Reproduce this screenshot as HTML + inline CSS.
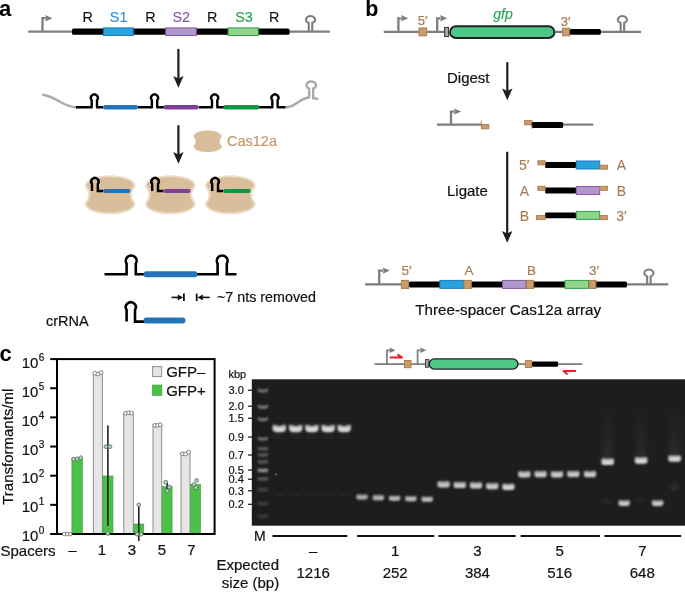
<!DOCTYPE html><html><head><meta charset="utf-8"><style>html,body{margin:0;padding:0;background:#fff;width:685px;height:592px;overflow:hidden}svg{display:block;will-change:transform}text{font-family:"Liberation Sans",sans-serif}</style></head><body>
<svg width="685" height="592" viewBox="0 0 685 592">
<defs><filter id="blur1" x="-50%" y="-50%" width="200%" height="200%"><feGaussianBlur stdDeviation="1.1"/></filter><filter id="blur2" x="-50%" y="-50%" width="200%" height="200%"><feGaussianBlur stdDeviation="1.0"/></filter><filter id="blur3" x="-50%" y="-50%" width="200%" height="200%"><feGaussianBlur stdDeviation="2.5"/></filter><filter id="blob" x="-20%" y="-20%" width="140%" height="140%"><feGaussianBlur stdDeviation="0.6"/></filter><filter id="bandblur" filterUnits="userSpaceOnUse" x="250" y="378" width="436" height="150"><feGaussianBlur stdDeviation="1.3"/></filter><linearGradient id="bandgrad" x1="0" y1="0" x2="0" y2="1"><stop offset="0" stop-color="#fff" stop-opacity="0.62"/><stop offset="0.55" stop-color="#fff" stop-opacity="0.9"/><stop offset="1" stop-color="#fff" stop-opacity="0.92"/></linearGradient><linearGradient id="smeargrad" x1="0" y1="0" x2="0" y2="1"><stop offset="0" stop-color="#fff" stop-opacity="0"/><stop offset="0.6" stop-color="#fff" stop-opacity="0.035"/><stop offset="1" stop-color="#fff" stop-opacity="0.06"/></linearGradient><filter id="smear" filterUnits="userSpaceOnUse" x="250" y="378" width="436" height="150"><feGaussianBlur stdDeviation="2.2"/></filter><filter id="softblur" filterUnits="userSpaceOnUse" x="250" y="378" width="436" height="150"><feGaussianBlur stdDeviation="1.8"/></filter></defs>
<text x="-1" y="15.8" font-size="22" fill="#000" text-anchor="start" font-weight="bold" font-style="normal" >a</text>
<line x1="28.2" y1="31.7" x2="72" y2="31.7" stroke="#7d7d7d" stroke-width="2.2" stroke-linecap="butt"/>
<line x1="289" y1="31.7" x2="329.8" y2="31.7" stroke="#7d7d7d" stroke-width="2.2" stroke-linecap="butt"/>
<path d="M42.5,31.7 V18.2 H45.699999999999996" fill="none" stroke="#7d7d7d" stroke-width="2.3" stroke-linejoin="miter"/>
<path d="M45.199999999999996,15.0 L52.4,18.2 L45.199999999999996,21.4 L46.199999999999996,18.2 Z" fill="#7d7d7d"/>
<path d="M308.75,31.7 V22.98 A4.6,3.6 0 1 1 312.25,22.98 V31.7" fill="none" stroke="#7d7d7d" stroke-width="2.1"/>
<rect x="72" y="28.6" width="217.5" height="6.2" rx="1.5" fill="#000"/>
<rect x="103.5" y="27.9" width="29.80000000000001" height="7.6" fill="#27a2dd" stroke="#1c7bbd" stroke-width="1" rx="0"/>
<rect x="165.7" y="27.9" width="30.600000000000023" height="7.6" fill="#ae98cc" stroke="#8a55a6" stroke-width="1" rx="0"/>
<rect x="228.1" y="27.9" width="30.200000000000017" height="7.6" fill="#8fd58b" stroke="#2f9e4f" stroke-width="1" rx="0"/>
<text x="87.8" y="21.6" font-size="14.4" fill="#111" stroke="#111" stroke-width="0.12" text-anchor="middle" font-weight="normal" font-style="normal" >R</text>
<text x="118.6" y="21.6" font-size="14.4" fill="#2b8fd2" stroke="#2b8fd2" stroke-width="0.12" text-anchor="middle" font-weight="normal" font-style="normal" >S1</text>
<text x="150.5" y="21.6" font-size="14.4" fill="#111" stroke="#111" stroke-width="0.12" text-anchor="middle" font-weight="normal" font-style="normal" >R</text>
<text x="181.2" y="21.6" font-size="14.4" fill="#8e55a8" stroke="#8e55a8" stroke-width="0.12" text-anchor="middle" font-weight="normal" font-style="normal" >S2</text>
<text x="212.3" y="21.6" font-size="14.4" fill="#111" stroke="#111" stroke-width="0.12" text-anchor="middle" font-weight="normal" font-style="normal" >R</text>
<text x="244" y="21.6" font-size="14.4" fill="#2a9c50" stroke="#2a9c50" stroke-width="0.12" text-anchor="middle" font-weight="normal" font-style="normal" >S3</text>
<text x="274.2" y="21.6" font-size="14.4" fill="#111" stroke="#111" stroke-width="0.12" text-anchor="middle" font-weight="normal" font-style="normal" >R</text>
<line x1="178.4" y1="48.9" x2="178.4" y2="79.4" stroke="#1e1e1e" stroke-width="2.2" stroke-linecap="butt"/>
<path d="M178.4,87.7 L173.20000000000002,75.9 L178.4,78.4 L183.6,75.9 Z" fill="#1e1e1e"/>
<path d="M42.3,94.5 C58,97.5 64,107.3 76,107.3" fill="none" stroke="#aaaaaa" stroke-width="2.4"/>
<path d="M285.6,107.3 C296,107.3 300,97.5 309.5,97.5" fill="none" stroke="#aaaaaa" stroke-width="2.4"/>
<path d="M309.2,98 V88.6 A4.8,3.7 0 1 1 313.2,88.6 V98.3 L318.3,99" fill="none" stroke="#aaaaaa" stroke-width="2.4"/>
<path d="M76,107.3 H91.7 V100.16 A3.45,3.45 0 1 1 97.00,100.16 V107.3 H103 M138,107.3 H151.9 V100.16 A3.45,3.45 0 1 1 157.20,100.16 V107.3 H164 M198.6,107.3 H212 V100.16 A3.45,3.45 0 1 1 217.30,100.16 V107.3 H224 M259,107.3 H272.3 V100.16 A3.45,3.45 0 1 1 277.60,100.16 V107.3 H285.6" fill="none" stroke="#000" stroke-width="2.4" stroke-linejoin="round"/>
<line x1="105.2" y1="107.3" x2="135.8" y2="107.3" stroke="#2474ba" stroke-width="4.4" stroke-linecap="round"/>
<line x1="165.8" y1="107.3" x2="196.4" y2="107.3" stroke="#80409a" stroke-width="4.4" stroke-linecap="round"/>
<line x1="225.6" y1="107.3" x2="257.1" y2="107.3" stroke="#139548" stroke-width="4.4" stroke-linecap="round"/>
<line x1="178.4" y1="125.2" x2="178.4" y2="155.39999999999998" stroke="#1e1e1e" stroke-width="2.2" stroke-linecap="butt"/>
<path d="M178.4,163.7 L173.20000000000002,151.89999999999998 L178.4,154.39999999999998 L183.6,151.89999999999998 Z" fill="#1e1e1e"/>
<path d="M193.5,136.8 C194.066,128.53333333333333 221.234,128.53333333333333 221.8,136.8 Q217.20000000000002,141.45 221.8,146.1 C221.234,154.23333333333332 194.066,154.23333333333332 193.5,146.1 Q198.1,141.45 193.5,136.8 Z" fill="#d9be9b" stroke="none" stroke-width="0"/>
<text x="227" y="146.2" font-size="14.5" fill="#c4986b" stroke="#c4986b" stroke-width="0.2" text-anchor="start" font-weight="normal" font-style="normal" >Cas12a</text>
<path d="M85.6,186.0 C86.58,172.9333333333333 133.62,172.9333333333333 134.6,186.0 Q127.0,194.75 134.6,203.5 C133.62,216.5666666666667 86.58,216.5666666666667 85.6,203.5 Q93.19999999999999,194.75 85.6,186.0 Z" fill="#d9be9b" stroke="#ebdcc8" stroke-width="2.0"/>
<path d="M92.0,191.0 V184.00 A3.70,3.70 0 1 1 97.80,184.00 V191.0 H103.0" fill="none" stroke="#000" stroke-width="2.4"/>
<line x1="105.1" y1="191.0" x2="128.5" y2="191.0" stroke="#2474ba" stroke-width="4.2" stroke-linecap="round"/>
<path d="M145.79999999999998,186.0 C146.77999999999997,172.9333333333333 193.82,172.9333333333333 194.79999999999998,186.0 Q187.2,194.75 194.79999999999998,203.5 C193.82,216.5666666666667 146.77999999999997,216.5666666666667 145.79999999999998,203.5 Q153.39999999999998,194.75 145.79999999999998,186.0 Z" fill="#d9be9b" stroke="#ebdcc8" stroke-width="2.0"/>
<path d="M152.2,191.0 V184.00 A3.70,3.70 0 1 1 158.00,184.00 V191.0 H163.2" fill="none" stroke="#000" stroke-width="2.4"/>
<line x1="165.29999999999998" y1="191.0" x2="188.7" y2="191.0" stroke="#80409a" stroke-width="4.2" stroke-linecap="round"/>
<path d="M205.79999999999998,186.0 C206.77999999999997,172.9333333333333 253.82,172.9333333333333 254.79999999999998,186.0 Q247.2,194.75 254.79999999999998,203.5 C253.82,216.5666666666667 206.77999999999997,216.5666666666667 205.79999999999998,203.5 Q213.39999999999998,194.75 205.79999999999998,186.0 Z" fill="#d9be9b" stroke="#ebdcc8" stroke-width="2.0"/>
<path d="M212.2,191.0 V184.00 A3.70,3.70 0 1 1 218.00,184.00 V191.0 H223.2" fill="none" stroke="#000" stroke-width="2.4"/>
<line x1="225.29999999999998" y1="191.0" x2="248.7" y2="191.0" stroke="#139548" stroke-width="4.2" stroke-linecap="round"/>
<path d="M104.5,274.2 H126.6 V263.73 A5.40,5.40 0 1 1 135.80,263.73 V274.2 H145 M196,274.2 H217.6 V263.73 A5.40,5.40 0 1 1 226.80,263.73 V274.2 H236.5" fill="none" stroke="#000" stroke-width="2.6"/>
<line x1="146.5" y1="274.2" x2="194.5" y2="274.2" stroke="#2474ba" stroke-width="6.0" stroke-linecap="round"/>
<path d="M126.6,321.6 V310.01 A5.00,5.00 0 1 1 135.00,310.01 V321.6 H145" fill="none" stroke="#000" stroke-width="2.6"/>
<line x1="146.5" y1="320.6" x2="182.5" y2="320.6" stroke="#2474ba" stroke-width="6.0" stroke-linecap="round"/>
<text x="46" y="325.5" font-size="14.5" fill="#111" stroke="#111" stroke-width="0.2" text-anchor="start" font-weight="normal" font-style="normal" >crRNA</text>
<line x1="171.6" y1="297.4" x2="180" y2="297.4" stroke="#111" stroke-width="1.6" stroke-linecap="butt"/>
<path d="M183.2,297.4 L177.8,294.6 L177.8,300.2 Z" fill="#111"/>
<line x1="183.9" y1="293.6" x2="183.9" y2="301.0" stroke="#111" stroke-width="1.8" stroke-linecap="butt"/>
<line x1="196.7" y1="293.6" x2="196.7" y2="301.0" stroke="#111" stroke-width="1.8" stroke-linecap="butt"/>
<path d="M197.4,297.4 L202.8,294.6 L202.8,300.2 Z" fill="#111"/>
<line x1="200" y1="297.4" x2="209.7" y2="297.4" stroke="#111" stroke-width="1.6" stroke-linecap="butt"/>
<text x="217" y="302" font-size="14.3" fill="#111" stroke="#111" stroke-width="0.2" text-anchor="start" font-weight="normal" font-style="normal" >~7 nts removed</text>
<text x="365.3" y="15.8" font-size="21.5" fill="#000" text-anchor="start" font-weight="bold" font-style="normal" >b</text>
<line x1="383.7" y1="31.8" x2="449" y2="31.8" stroke="#7d7d7d" stroke-width="2.2" stroke-linecap="butt"/>
<line x1="555" y1="31.8" x2="641" y2="31.8" stroke="#7d7d7d" stroke-width="2.2" stroke-linecap="butt"/>
<path d="M398.4,31.8 V18.3 H401.5" fill="none" stroke="#7d7d7d" stroke-width="2.3" stroke-linejoin="miter"/>
<path d="M401.0,15.100000000000001 L408.2,18.3 L401.0,21.5 L402.0,18.3 Z" fill="#7d7d7d"/>
<path d="M437.2,31.8 V18.3 H440.5" fill="none" stroke="#7d7d7d" stroke-width="2.3" stroke-linejoin="miter"/>
<path d="M440.0,15.100000000000001 L447.2,18.3 L440.0,21.5 L441.0,18.3 Z" fill="#7d7d7d"/>
<rect x="419" y="28.0" width="7.6" height="7.8" fill="#c99c6c" stroke="#a87a4c" stroke-width="1" rx="0"/>
<text x="422.5" y="25.4" font-size="13" fill="#a87a4e" stroke="#a87a4e" stroke-width="0.2" text-anchor="middle" font-weight="normal" font-style="normal" >5′</text>
<rect x="444.6" y="27.4" width="4.0" height="9.2" fill="#a8a8a8" stroke="#333" stroke-width="1" rx="0"/>
<rect x="450.0" y="26.3" width="104.4" height="11.7" rx="5.85" fill="#4cc786" stroke="#222" stroke-width="1.9"/>
<text x="503" y="19.3" font-size="14" fill="#2aa75a" stroke="#2aa75a" stroke-width="0.2" text-anchor="middle" font-weight="normal" font-style="italic" >gfp</text>
<rect x="562.6" y="28.2" width="7.2" height="7.6" fill="#c99c6c" stroke="#a87a4c" stroke-width="1" rx="0"/>
<text x="565.5" y="25.5" font-size="13" fill="#a87a4e" stroke="#a87a4e" stroke-width="0.2" text-anchor="middle" font-weight="normal" font-style="normal" >3′</text>
<rect x="569.8" y="29.0" width="31" height="5.8" rx="1.5" fill="#000"/>
<path d="M620.65,31.8 V22.98 A4.6,3.6 0 1 1 624.15,22.98 V31.8" fill="none" stroke="#7d7d7d" stroke-width="2.1"/>
<text x="447" y="82.8" font-size="15" fill="#111" stroke="#111" stroke-width="0.2" text-anchor="start" font-weight="normal" font-style="normal" >Digest</text>
<line x1="507.3" y1="62.2" x2="507.3" y2="91.9" stroke="#1e1e1e" stroke-width="2.2" stroke-linecap="butt"/>
<path d="M507.3,100.2 L502.1,88.4 L507.3,90.9 L512.5,88.4 Z" fill="#1e1e1e"/>
<line x1="437" y1="124.6" x2="481" y2="124.6" stroke="#7d7d7d" stroke-width="2.2" stroke-linecap="butt"/>
<path d="M451,124.6 V111.6 H454.5" fill="none" stroke="#7d7d7d" stroke-width="2.3" stroke-linejoin="miter"/>
<path d="M454.0,108.39999999999999 L461.2,111.6 L454.0,114.8 L455.0,111.6 Z" fill="#7d7d7d"/>
<rect x="481.4" y="124.6" width="7.4" height="4.2" fill="#c99c6c" stroke="#a87a4c" stroke-width="0.9" rx="0"/>
<line x1="481.3" y1="120.3" x2="481.3" y2="124.6" stroke="#a87a4c" stroke-width="0.8" stroke-linecap="butt"/>
<rect x="524.6" y="120.6" width="7.4" height="4.2" fill="#c99c6c" stroke="#a87a4c" stroke-width="0.9" rx="0"/>
<rect x="531.7" y="122.0" width="31.5" height="5.9" rx="1.5" fill="#000"/>
<line x1="563" y1="124.6" x2="593.3" y2="124.6" stroke="#7d7d7d" stroke-width="2.2" stroke-linecap="butt"/>
<line x1="532" y1="124.8" x2="532" y2="128.8" stroke="#a87a4c" stroke-width="0.8" stroke-linecap="butt"/>
<text x="447" y="196" font-size="15" fill="#111" stroke="#111" stroke-width="0.2" text-anchor="start" font-weight="normal" font-style="normal" >Ligate</text>
<line x1="507.2" y1="151.8" x2="507.2" y2="234.5" stroke="#1e1e1e" stroke-width="2.2" stroke-linecap="butt"/>
<path d="M507.2,242.8 L502.0,231.0 L507.2,233.5 L512.4,231.0 Z" fill="#1e1e1e"/>
<rect x="545.1" y="162.05" width="31" height="5.9" rx="1.2" fill="#000"/>
<rect x="576.3" y="161.0" width="23.4" height="8.0" fill="#27a2dd" stroke="#1c7bbd" stroke-width="1" rx="0"/>
<rect x="537.9" y="160.8" width="7.2000000000000455" height="4.0" fill="#c99c6c" stroke="#a87a4c" stroke-width="0.9" rx="0"/>
<rect x="599.9" y="165.2" width="7.5" height="4.0" fill="#c99c6c" stroke="#a87a4c" stroke-width="0.9" rx="0"/>
<text x="524.3" y="170.2" font-size="14" fill="#a87a4e" stroke="#a87a4e" stroke-width="0.1" text-anchor="middle" font-weight="normal" font-style="normal" >5′</text>
<text x="621.4" y="170.2" font-size="14" fill="#a87a4e" stroke="#a87a4e" stroke-width="0.1" text-anchor="middle" font-weight="normal" font-style="normal" >A</text>
<rect x="545.1" y="187.55" width="31" height="5.9" rx="1.2" fill="#000"/>
<rect x="576.3" y="186.5" width="23.4" height="8.0" fill="#ae98cc" stroke="#8a55a6" stroke-width="1" rx="0"/>
<rect x="537.9" y="186.3" width="7.2000000000000455" height="4.0" fill="#c99c6c" stroke="#a87a4c" stroke-width="0.9" rx="0"/>
<rect x="599.9" y="186.3" width="7.5" height="4.0" fill="#c99c6c" stroke="#a87a4c" stroke-width="0.9" rx="0"/>
<text x="524.3" y="195.7" font-size="14" fill="#a87a4e" stroke="#a87a4e" stroke-width="0.1" text-anchor="middle" font-weight="normal" font-style="normal" >A</text>
<text x="621.4" y="195.7" font-size="14" fill="#a87a4e" stroke="#a87a4e" stroke-width="0.1" text-anchor="middle" font-weight="normal" font-style="normal" >B</text>
<rect x="545.1" y="212.45000000000002" width="31" height="5.9" rx="1.2" fill="#000"/>
<rect x="576.3" y="211.4" width="23.4" height="8.0" fill="#8fd58b" stroke="#2f9e4f" stroke-width="1" rx="0"/>
<rect x="536.4" y="215.6" width="8.700000000000045" height="4.0" fill="#c99c6c" stroke="#a87a4c" stroke-width="0.9" rx="0"/>
<rect x="599.9" y="215.6" width="7.5" height="4.0" fill="#c99c6c" stroke="#a87a4c" stroke-width="0.9" rx="0"/>
<text x="524.3" y="220.6" font-size="14" fill="#a87a4e" stroke="#a87a4e" stroke-width="0.1" text-anchor="middle" font-weight="normal" font-style="normal" >B</text>
<text x="621.4" y="220.6" font-size="14" fill="#a87a4e" stroke="#a87a4e" stroke-width="0.1" text-anchor="middle" font-weight="normal" font-style="normal" >3′</text>
<line x1="365.1" y1="284.4" x2="401" y2="284.4" stroke="#7d7d7d" stroke-width="2.2" stroke-linecap="butt"/>
<line x1="627" y1="284.4" x2="668.2" y2="284.4" stroke="#7d7d7d" stroke-width="2.2" stroke-linecap="butt"/>
<path d="M379.2,284.4 V270.6 H383.2" fill="none" stroke="#7d7d7d" stroke-width="2.3" stroke-linejoin="miter"/>
<path d="M382.7,267.40000000000003 L389.9,270.6 L382.7,273.8 L383.7,270.6 Z" fill="#7d7d7d"/>
<rect x="409" y="281.4" width="218" height="6.0" rx="1.5" fill="#000"/>
<rect x="439.9" y="280.4" width="23.600000000000023" height="8.0" fill="#27a2dd" stroke="#1c7bbd" stroke-width="1" rx="0"/>
<rect x="502.5" y="280.4" width="23.5" height="8.0" fill="#ae98cc" stroke="#8a55a6" stroke-width="1" rx="0"/>
<rect x="565" y="280.4" width="23.600000000000023" height="8.0" fill="#8fd58b" stroke="#2f9e4f" stroke-width="1" rx="0"/>
<rect x="401.4" y="280.4" width="7.2" height="8.0" fill="#c99c6c" stroke="#a87a4c" stroke-width="1" rx="0"/>
<text x="406.5" y="274.9" font-size="13.5" fill="#a87a4e" stroke="#a87a4e" stroke-width="0.2" text-anchor="middle" font-weight="normal" font-style="normal" >5′</text>
<rect x="463.9" y="280.4" width="7.399999999999989" height="8.0" fill="#c99c6c" stroke="#a87a4c" stroke-width="1" rx="0"/>
<text x="469.1" y="274.9" font-size="13.5" fill="#a87a4e" stroke="#a87a4e" stroke-width="0.2" text-anchor="middle" font-weight="normal" font-style="normal" >A</text>
<rect x="526.4" y="280.4" width="7.2" height="8.0" fill="#c99c6c" stroke="#a87a4c" stroke-width="1" rx="0"/>
<text x="531.5" y="274.9" font-size="13.5" fill="#a87a4e" stroke="#a87a4e" stroke-width="0.2" text-anchor="middle" font-weight="normal" font-style="normal" >B</text>
<rect x="589.0" y="280.4" width="6.899999999999932" height="8.0" fill="#c99c6c" stroke="#a87a4c" stroke-width="1" rx="0"/>
<text x="593.95" y="274.9" font-size="13.5" fill="#a87a4e" stroke="#a87a4e" stroke-width="0.2" text-anchor="middle" font-weight="normal" font-style="normal" >3′</text>
<path d="M647.15,284.4 V276.38 A4.6,3.6 0 1 1 650.65,276.38 V284.4" fill="none" stroke="#7d7d7d" stroke-width="2.1"/>
<text x="508.2" y="315.3" font-size="15.2" fill="#111" stroke="#111" stroke-width="0.2" text-anchor="middle" font-weight="normal" font-style="normal" >Three-spacer Cas12a array</text>
<text x="-0.6" y="360.6" font-size="22" fill="#000" text-anchor="start" font-weight="bold" font-style="normal" >c</text>
<rect x="71.9" y="458.1499512527899" width="10.5" height="75.85004874721011" fill="#4cc14a" stroke="#3aa040" stroke-width="0.6" rx="0"/>
<rect x="93.4" y="372.7573895682183" width="9.0" height="161.2426104317817" fill="#e6e6e6" stroke="#8f8f8f" stroke-width="1" rx="0"/>
<rect x="102.9" y="475.95575989356377" width="10.099999999999994" height="58.044240106436234" fill="#4cc14a" stroke="#3aa040" stroke-width="0.6" rx="0"/>
<rect x="123.8" y="412.69612273485046" width="9.500000000000014" height="121.30387726514954" fill="#e6e6e6" stroke="#8f8f8f" stroke-width="1" rx="0"/>
<rect x="133.8" y="524.0183788540327" width="10.0" height="9.981621145967324" fill="#4cc14a" stroke="#3aa040" stroke-width="0.6" rx="0"/>
<rect x="153.0" y="424.74031901276925" width="8.699999999999989" height="109.25968098723075" fill="#e6e6e6" stroke="#8f8f8f" stroke-width="1" rx="0"/>
<rect x="162.2" y="486.6822831849012" width="9.900000000000006" height="47.31771681509878" fill="#4cc14a" stroke="#3aa040" stroke-width="0.6" rx="0"/>
<rect x="181.0" y="452.80763530943614" width="9.0" height="81.19236469056386" fill="#e6e6e6" stroke="#8f8f8f" stroke-width="1" rx="0"/>
<rect x="190.5" y="484.22432936674517" width="10.099999999999994" height="49.77567063325483" fill="#4cc14a" stroke="#3aa040" stroke-width="0.6" rx="0"/>
<rect x="57" y="359.1" width="157.6" height="174.9" fill="none" stroke="#000" stroke-width="2"/>
<line x1="107.9" y1="425.6" x2="107.9" y2="526" stroke="#222" stroke-width="1.6" stroke-linecap="butt"/>
<line x1="138.8" y1="504.9" x2="138.8" y2="541" stroke="#222" stroke-width="1.6" stroke-linecap="butt"/>
<line x1="167.2" y1="483" x2="167.2" y2="490" stroke="#222" stroke-width="1.6" stroke-linecap="butt"/>
<circle cx="64.3" cy="534" r="1.9" fill="#ffffff" stroke="#666" stroke-width="0.8"/>
<circle cx="67.3" cy="534" r="1.9" fill="#ffffff" stroke="#666" stroke-width="0.8"/>
<circle cx="70.2" cy="534" r="1.9" fill="#ffffff" stroke="#666" stroke-width="0.8"/>
<circle cx="94.8" cy="373.3" r="1.9" fill="#ffffff" stroke="#666" stroke-width="0.8"/>
<circle cx="97.9" cy="374.0" r="1.9" fill="#ffffff" stroke="#666" stroke-width="0.8"/>
<circle cx="101.1" cy="372.5" r="1.9" fill="#ffffff" stroke="#666" stroke-width="0.8"/>
<circle cx="125.6" cy="413.3" r="1.9" fill="#ffffff" stroke="#666" stroke-width="0.8"/>
<circle cx="128.6" cy="412.8" r="1.9" fill="#ffffff" stroke="#666" stroke-width="0.8"/>
<circle cx="131.6" cy="413.0" r="1.9" fill="#ffffff" stroke="#666" stroke-width="0.8"/>
<circle cx="154.8" cy="425.3" r="1.9" fill="#ffffff" stroke="#666" stroke-width="0.8"/>
<circle cx="157.6" cy="425.4" r="1.9" fill="#ffffff" stroke="#666" stroke-width="0.8"/>
<circle cx="160.2" cy="424.8" r="1.9" fill="#ffffff" stroke="#666" stroke-width="0.8"/>
<circle cx="182.5" cy="453.8" r="1.9" fill="#ffffff" stroke="#666" stroke-width="0.8"/>
<circle cx="185.5" cy="454.0" r="1.9" fill="#ffffff" stroke="#666" stroke-width="0.8"/>
<circle cx="188.6" cy="452.2" r="1.9" fill="#ffffff" stroke="#666" stroke-width="0.8"/>
<circle cx="73.6" cy="459.2" r="1.9" fill="#a6dcb4" stroke="#666" stroke-width="0.8"/>
<circle cx="77.2" cy="459.0" r="1.9" fill="#a6dcb4" stroke="#666" stroke-width="0.8"/>
<circle cx="80.7" cy="457.7" r="1.9" fill="#a6dcb4" stroke="#666" stroke-width="0.8"/>
<circle cx="105.9" cy="446.7" r="1.9" fill="#a6dcb4" stroke="#666" stroke-width="0.8"/>
<circle cx="110.0" cy="446.7" r="1.9" fill="#a6dcb4" stroke="#666" stroke-width="0.8"/>
<circle cx="107.8" cy="533.5" r="1.9" fill="#a6dcb4" stroke="#666" stroke-width="0.8"/>
<circle cx="138.8" cy="504.9" r="1.9" fill="#a6dcb4" stroke="#666" stroke-width="0.8"/>
<circle cx="137.0" cy="534.2" r="1.9" fill="#a6dcb4" stroke="#666" stroke-width="0.8"/>
<circle cx="141.2" cy="534.2" r="1.9" fill="#a6dcb4" stroke="#666" stroke-width="0.8"/>
<circle cx="165.7" cy="482.1" r="1.9" fill="#a6dcb4" stroke="#666" stroke-width="0.8"/>
<circle cx="169.4" cy="487.0" r="1.9" fill="#a6dcb4" stroke="#666" stroke-width="0.8"/>
<circle cx="167.2" cy="491.0" r="1.9" fill="#a6dcb4" stroke="#666" stroke-width="0.8"/>
<circle cx="196.6" cy="480.4" r="1.9" fill="#a6dcb4" stroke="#666" stroke-width="0.8"/>
<circle cx="193.9" cy="484.6" r="1.9" fill="#a6dcb4" stroke="#666" stroke-width="0.8"/>
<circle cx="195.9" cy="487.7" r="1.9" fill="#a6dcb4" stroke="#666" stroke-width="0.8"/>
<line x1="50.2" y1="534.0" x2="57" y2="534.0" stroke="#000" stroke-width="2" stroke-linecap="butt"/>
<text x="38.4" y="540.6" font-size="15" fill="#111" stroke="#111" stroke-width="0.2" text-anchor="end" font-weight="normal" font-style="normal" >10</text>
<text x="38.8" y="533.7" font-size="10" fill="#111" stroke="#111" stroke-width="0.2" text-anchor="start" font-weight="normal" font-style="normal" >0</text>
<line x1="50.2" y1="504.85" x2="57" y2="504.85" stroke="#000" stroke-width="2" stroke-linecap="butt"/>
<text x="38.4" y="512.2" font-size="15" fill="#111" stroke="#111" stroke-width="0.2" text-anchor="end" font-weight="normal" font-style="normal" >10</text>
<text x="38.8" y="505.30000000000007" font-size="10" fill="#111" stroke="#111" stroke-width="0.2" text-anchor="start" font-weight="normal" font-style="normal" >1</text>
<line x1="50.2" y1="475.7" x2="57" y2="475.7" stroke="#000" stroke-width="2" stroke-linecap="butt"/>
<text x="38.4" y="483.4" font-size="15" fill="#111" stroke="#111" stroke-width="0.2" text-anchor="end" font-weight="normal" font-style="normal" >10</text>
<text x="38.8" y="476.5" font-size="10" fill="#111" stroke="#111" stroke-width="0.2" text-anchor="start" font-weight="normal" font-style="normal" >2</text>
<line x1="50.2" y1="446.55" x2="57" y2="446.55" stroke="#000" stroke-width="2" stroke-linecap="butt"/>
<text x="38.4" y="454.6" font-size="15" fill="#111" stroke="#111" stroke-width="0.2" text-anchor="end" font-weight="normal" font-style="normal" >10</text>
<text x="38.8" y="447.70000000000005" font-size="10" fill="#111" stroke="#111" stroke-width="0.2" text-anchor="start" font-weight="normal" font-style="normal" >3</text>
<line x1="50.2" y1="417.4" x2="57" y2="417.4" stroke="#000" stroke-width="2" stroke-linecap="butt"/>
<text x="38.4" y="426.0" font-size="15" fill="#111" stroke="#111" stroke-width="0.2" text-anchor="end" font-weight="normal" font-style="normal" >10</text>
<text x="38.8" y="419.1" font-size="10" fill="#111" stroke="#111" stroke-width="0.2" text-anchor="start" font-weight="normal" font-style="normal" >4</text>
<line x1="50.2" y1="388.25" x2="57" y2="388.25" stroke="#000" stroke-width="2" stroke-linecap="butt"/>
<text x="38.4" y="397.0" font-size="15" fill="#111" stroke="#111" stroke-width="0.2" text-anchor="end" font-weight="normal" font-style="normal" >10</text>
<text x="38.8" y="390.1" font-size="10" fill="#111" stroke="#111" stroke-width="0.2" text-anchor="start" font-weight="normal" font-style="normal" >5</text>
<line x1="50.2" y1="359.1" x2="57" y2="359.1" stroke="#000" stroke-width="2" stroke-linecap="butt"/>
<text x="38.4" y="368.3" font-size="15" fill="#111" stroke="#111" stroke-width="0.2" text-anchor="end" font-weight="normal" font-style="normal" >10</text>
<text x="38.8" y="361.40000000000003" font-size="10" fill="#111" stroke="#111" stroke-width="0.2" text-anchor="start" font-weight="normal" font-style="normal" >6</text>
<text x="13.3" y="504.8" font-size="15" fill="#111" stroke="#111" stroke-width="0.2" text-anchor="start" font-weight="normal" font-style="normal" transform="rotate(-90 13.3 504.8)">Transformants/ml</text>
<rect x="152.6" y="366.6" width="9.0" height="10.0" fill="#e6e6e6" stroke="#8f8f8f" stroke-width="1" rx="0"/>
<rect x="152.3" y="385.0" width="9.6" height="10.5" fill="#4cc14a" stroke="#3aa040" stroke-width="0.6" rx="0"/>
<text x="166.2" y="377.2" font-size="15" fill="#111" stroke="#111" stroke-width="0.2" text-anchor="start" font-weight="normal" font-style="normal" >GFP–</text>
<text x="166.2" y="395.8" font-size="15" fill="#111" stroke="#111" stroke-width="0.2" text-anchor="start" font-weight="normal" font-style="normal" >GFP+</text>
<text x="0.5" y="555.5" font-size="15" fill="#111" stroke="#111" stroke-width="0.2" text-anchor="start" font-weight="normal" font-style="normal" >Spacers</text>
<text x="72.5" y="555.4" font-size="15" fill="#111" stroke="#111" stroke-width="0.2" text-anchor="middle" font-weight="normal" font-style="normal" >–</text>
<text x="102" y="555.4" font-size="15" fill="#111" stroke="#111" stroke-width="0.2" text-anchor="middle" font-weight="normal" font-style="normal" >1</text>
<text x="132" y="555.4" font-size="15" fill="#111" stroke="#111" stroke-width="0.2" text-anchor="middle" font-weight="normal" font-style="normal" >3</text>
<text x="162" y="555.4" font-size="15" fill="#111" stroke="#111" stroke-width="0.2" text-anchor="middle" font-weight="normal" font-style="normal" >5</text>
<text x="191.5" y="555.4" font-size="15" fill="#111" stroke="#111" stroke-width="0.2" text-anchor="middle" font-weight="normal" font-style="normal" >7</text>
<line x1="374.5" y1="364.2" x2="425" y2="364.2" stroke="#7d7d7d" stroke-width="1.8" stroke-linecap="butt"/>
<line x1="518" y1="364.2" x2="582.3" y2="364.2" stroke="#7d7d7d" stroke-width="1.8" stroke-linecap="butt"/>
<path d="M386.9,364.2 V350.3 H389.9" fill="none" stroke="#7d7d7d" stroke-width="1.7"/>
<path d="M389.5,347.6 L395.7,350.3 L389.5,353.0 L390.2,350.3 Z" fill="#7d7d7d"/>
<path d="M417.6,364.2 V350.3 H420.6" fill="none" stroke="#7d7d7d" stroke-width="1.7"/>
<path d="M420.20000000000005,347.6 L426.40000000000003,350.3 L420.20000000000005,353.0 L420.90000000000003,350.3 Z" fill="#7d7d7d"/>
<rect x="404.4" y="360.5" width="6.6" height="7.2" fill="#c99c6c" stroke="#a87a4c" stroke-width="0.9" rx="0"/>
<rect x="425.5" y="359.6" width="3.3" height="7.6" fill="#a8a8a8" stroke="#333" stroke-width="0.9" rx="0"/>
<rect x="429.2" y="358.9" width="88.8" height="10.2" rx="5.1" fill="#4cc786" stroke="#222" stroke-width="1.4"/>
<rect x="525.3" y="360.6" width="6.6" height="7.0" fill="#c99c6c" stroke="#a87a4c" stroke-width="0.9" rx="0"/>
<rect x="532.1" y="361.4" width="26" height="5.3" rx="1.3" fill="#000"/>
<path d="M390.6,357.6 H402 L398.2,354.9" fill="none" stroke="#e8202a" stroke-width="2.0" stroke-linecap="round" stroke-linejoin="round"/>
<path d="M575.3,370.9 H563.6 L567,373.9" fill="none" stroke="#e8202a" stroke-width="2.0" stroke-linecap="round" stroke-linejoin="round"/>
<rect x="251.8" y="379.3" width="433.2" height="146.4" fill="#1d1d1d" rx="0"/>
<text x="228.4" y="377.9" font-size="11" fill="#111" stroke="#111" stroke-width="0.2" text-anchor="start" font-weight="normal" font-style="normal" >kbp</text>
<text x="243.8" y="394.3" font-size="11" fill="#111" stroke="#111" stroke-width="0.2" text-anchor="end" font-weight="normal" font-style="normal" >3.0</text>
<line x1="248" y1="390.3" x2="252" y2="390.3" stroke="#111" stroke-width="1.2" stroke-linecap="butt"/>
<text x="243.8" y="410.2" font-size="11" fill="#111" stroke="#111" stroke-width="0.2" text-anchor="end" font-weight="normal" font-style="normal" >2.0</text>
<line x1="248" y1="406.2" x2="252" y2="406.2" stroke="#111" stroke-width="1.2" stroke-linecap="butt"/>
<text x="243.8" y="422.2" font-size="11" fill="#111" stroke="#111" stroke-width="0.2" text-anchor="end" font-weight="normal" font-style="normal" >1.5</text>
<line x1="248" y1="418.2" x2="252" y2="418.2" stroke="#111" stroke-width="1.2" stroke-linecap="butt"/>
<text x="243.8" y="441.0" font-size="11" fill="#111" stroke="#111" stroke-width="0.2" text-anchor="end" font-weight="normal" font-style="normal" >0.9</text>
<line x1="248" y1="437.0" x2="252" y2="437.0" stroke="#111" stroke-width="1.2" stroke-linecap="butt"/>
<text x="243.8" y="459.0" font-size="11" fill="#111" stroke="#111" stroke-width="0.2" text-anchor="end" font-weight="normal" font-style="normal" >0.7</text>
<line x1="248" y1="455.0" x2="252" y2="455.0" stroke="#111" stroke-width="1.2" stroke-linecap="butt"/>
<text x="243.8" y="474.0" font-size="11" fill="#111" stroke="#111" stroke-width="0.2" text-anchor="end" font-weight="normal" font-style="normal" >0.5</text>
<line x1="248" y1="470.0" x2="252" y2="470.0" stroke="#111" stroke-width="1.2" stroke-linecap="butt"/>
<text x="243.8" y="483.2" font-size="11" fill="#111" stroke="#111" stroke-width="0.2" text-anchor="end" font-weight="normal" font-style="normal" >0.4</text>
<line x1="248" y1="479.2" x2="252" y2="479.2" stroke="#111" stroke-width="1.2" stroke-linecap="butt"/>
<text x="243.8" y="494.8" font-size="11" fill="#111" stroke="#111" stroke-width="0.2" text-anchor="end" font-weight="normal" font-style="normal" >0.3</text>
<line x1="248" y1="490.8" x2="252" y2="490.8" stroke="#111" stroke-width="1.2" stroke-linecap="butt"/>
<text x="243.8" y="508.3" font-size="11" fill="#111" stroke="#111" stroke-width="0.2" text-anchor="end" font-weight="normal" font-style="normal" >0.2</text>
<line x1="248" y1="504.3" x2="252" y2="504.3" stroke="#111" stroke-width="1.2" stroke-linecap="butt"/>
<g filter="url(#blur2)">
<path d="M257.8,388.3 Q262.9,390.7 268.0,388.3 L268.0,391.4 Q262.9,393.79999999999995 257.8,391.4 Z" fill="rgb(115,115,115)"/>
<path d="M257.8,404.6 Q262.9,407.0 268.0,404.6 L268.0,407.7 Q262.9,410.09999999999997 257.8,407.7 Z" fill="rgb(123,123,123)"/>
<path d="M257.8,417.0 Q262.9,419.4 268.0,417.0 L268.0,420.09999999999997 Q262.9,422.49999999999994 257.8,420.09999999999997 Z" fill="rgb(123,123,123)"/>
<path d="M257.8,436.7 Q262.9,438.62 268.0,436.7 L268.0,439.79999999999995 Q262.9,441.71999999999997 257.8,439.79999999999995 Z" fill="rgb(115,115,115)"/>
<path d="M257.8,446.8 Q262.9,447.76 268.0,446.8 L268.0,449.9 Q262.9,450.85999999999996 257.8,449.9 Z" fill="rgb(91,91,91)"/>
<path d="M257.8,453.1 Q262.9,454.06 268.0,453.1 L268.0,456.2 Q262.9,457.15999999999997 257.8,456.2 Z" fill="rgb(91,91,91)"/>
<path d="M257.8,460.1 Q262.9,461.06 268.0,460.1 L268.0,463.2 Q262.9,464.15999999999997 257.8,463.2 Z" fill="rgb(91,91,91)"/>
<path d="M257.8,468.6 Q262.9,469.56 268.0,468.6 L268.0,471.7 Q262.9,472.65999999999997 257.8,471.7 Z" fill="rgb(151,151,151)"/>
<path d="M257.8,477.1 Q262.9,478.06 268.0,477.1 L268.0,480.2 Q262.9,481.15999999999997 257.8,480.2 Z" fill="rgb(91,91,91)"/>
<path d="M257.8,487.8 Q262.9,489.0 268.0,487.8 L268.0,490.9 Q262.9,492.09999999999997 257.8,490.9 Z" fill="rgb(71,71,71)"/>
<path d="M257.8,501.6 Q262.9,502.8 268.0,501.6 L268.0,504.7 Q262.9,505.9 257.8,504.7 Z" fill="rgb(67,67,67)"/>
<path d="M257.8,514.3 Q262.9,515.5 268.0,514.3 L268.0,517.4 Q262.9,518.6 257.8,517.4 Z" fill="rgb(59,59,59)"/>
</g>
<path d="M272.5,425.79999999999995 Q272.5,424.59999999999997 274.5,424.59999999999997 Q279.3,427.48799999999994 284.1,424.59999999999997 Q286.1,424.59999999999997 286.1,425.79999999999995 L286.1,427.488 Q286.1,432.2 281.38800000000003,432.2 L277.212,432.2 Q272.5,432.2 272.5,427.488 Z" fill="url(#bandgrad)" opacity="0.92" filter="url(#bandblur)"/>
<rect x="273.8" y="435.2" width="11" height="1.6" rx="0.8" fill="rgb(45,45,45)" filter="url(#softblur)"/>
<rect x="274.3" y="493.55" width="10" height="2.5" rx="1.25" fill="rgb(38,38,38)" filter="url(#softblur)"/>
<path d="M288.9,425.79999999999995 Q288.9,424.59999999999997 290.9,424.59999999999997 Q295.7,427.48799999999994 300.5,424.59999999999997 Q302.5,424.59999999999997 302.5,425.79999999999995 L302.5,427.488 Q302.5,432.2 297.788,432.2 L293.61199999999997,432.2 Q288.9,432.2 288.9,427.488 Z" fill="url(#bandgrad)" opacity="0.92" filter="url(#bandblur)"/>
<rect x="290.2" y="435.2" width="11" height="1.6" rx="0.8" fill="rgb(45,45,45)" filter="url(#softblur)"/>
<rect x="290.7" y="493.55" width="10" height="2.5" rx="1.25" fill="rgb(38,38,38)" filter="url(#softblur)"/>
<path d="M305.09999999999997,425.79999999999995 Q305.09999999999997,424.59999999999997 307.09999999999997,424.59999999999997 Q311.9,427.48799999999994 316.7,424.59999999999997 Q318.7,424.59999999999997 318.7,425.79999999999995 L318.7,427.488 Q318.7,432.2 313.988,432.2 L309.81199999999995,432.2 Q305.09999999999997,432.2 305.09999999999997,427.488 Z" fill="url(#bandgrad)" opacity="0.92" filter="url(#bandblur)"/>
<rect x="306.4" y="435.2" width="11" height="1.6" rx="0.8" fill="rgb(45,45,45)" filter="url(#softblur)"/>
<rect x="306.9" y="493.55" width="10" height="2.5" rx="1.25" fill="rgb(38,38,38)" filter="url(#softblur)"/>
<path d="M321.3,425.79999999999995 Q321.3,424.59999999999997 323.3,424.59999999999997 Q328.1,427.48799999999994 332.90000000000003,424.59999999999997 Q334.90000000000003,424.59999999999997 334.90000000000003,425.79999999999995 L334.90000000000003,427.488 Q334.90000000000003,432.2 330.18800000000005,432.2 L326.012,432.2 Q321.3,432.2 321.3,427.488 Z" fill="url(#bandgrad)" opacity="0.92" filter="url(#bandblur)"/>
<rect x="322.6" y="435.2" width="11" height="1.6" rx="0.8" fill="rgb(45,45,45)" filter="url(#softblur)"/>
<rect x="323.1" y="493.55" width="10" height="2.5" rx="1.25" fill="rgb(38,38,38)" filter="url(#softblur)"/>
<path d="M337.4,425.79999999999995 Q337.4,424.59999999999997 339.4,424.59999999999997 Q344.2,427.48799999999994 349.0,424.59999999999997 Q351.0,424.59999999999997 351.0,425.79999999999995 L351.0,427.488 Q351.0,432.2 346.288,432.2 L342.11199999999997,432.2 Q337.4,432.2 337.4,427.488 Z" fill="url(#bandgrad)" opacity="0.92" filter="url(#bandblur)"/>
<rect x="338.7" y="435.2" width="11" height="1.6" rx="0.8" fill="rgb(45,45,45)" filter="url(#softblur)"/>
<rect x="339.2" y="493.55" width="10" height="2.5" rx="1.25" fill="rgb(38,38,38)" filter="url(#softblur)"/>
<path d="M356.3,495.4 Q356.3,494.2 358.3,494.2 Q362.0,494.848 365.7,494.2 Q367.7,494.2 367.7,495.4 L367.7,497.332 Q367.7,499.59999999999997 365.432,499.59999999999997 L358.568,499.59999999999997 Q356.3,499.59999999999997 356.3,497.332 Z" fill="url(#bandgrad)" opacity="0.74" filter="url(#bandblur)"/>
<path d="M372.7,496.0 Q372.7,494.8 374.7,494.8 Q378.4,495.44800000000004 382.09999999999997,494.8 Q384.09999999999997,494.8 384.09999999999997,496.0 L384.09999999999997,497.932 Q384.09999999999997,500.2 381.832,500.2 L374.96799999999996,500.2 Q372.7,500.2 372.7,497.932 Z" fill="url(#bandgrad)" opacity="0.76" filter="url(#bandblur)"/>
<path d="M388.90000000000003,496.6 Q388.90000000000003,495.40000000000003 390.90000000000003,495.40000000000003 Q394.6,496.04800000000006 398.3,495.40000000000003 Q400.3,495.40000000000003 400.3,496.6 L400.3,498.53200000000004 Q400.3,500.8 398.03200000000004,500.8 L391.168,500.8 Q388.90000000000003,500.8 388.90000000000003,498.53200000000004 Z" fill="url(#bandgrad)" opacity="0.78" filter="url(#bandblur)"/>
<path d="M405.1,497.1 Q405.1,495.90000000000003 407.1,495.90000000000003 Q410.8,496.54800000000006 414.5,495.90000000000003 Q416.5,495.90000000000003 416.5,497.1 L416.5,499.03200000000004 Q416.5,501.3 414.232,501.3 L407.368,501.3 Q405.1,501.3 405.1,499.03200000000004 Z" fill="url(#bandgrad)" opacity="0.80" filter="url(#bandblur)"/>
<path d="M421.5,497.6 Q421.5,496.40000000000003 423.5,496.40000000000003 Q427.2,497.04800000000006 430.9,496.40000000000003 Q432.9,496.40000000000003 432.9,497.6 L432.9,499.53200000000004 Q432.9,501.8 430.632,501.8 L423.768,501.8 Q421.5,501.8 421.5,499.53200000000004 Z" fill="url(#bandgrad)" opacity="0.82" filter="url(#bandblur)"/>
<path d="M437.45000000000005,482.2 Q437.45000000000005,481.0 439.45000000000005,481.0 Q443.6,481.768 447.75,481.0 Q449.75,481.0 449.75,482.2 L449.75,484.712 Q449.75,487.4 447.062,487.4 L440.13800000000003,487.4 Q437.45000000000005,487.4 437.45000000000005,484.712 Z" fill="url(#bandgrad)" opacity="0.84" filter="url(#bandblur)"/>
<path d="M453.65000000000003,482.9 Q453.65000000000003,481.7 455.65000000000003,481.7 Q459.8,482.46799999999996 463.95,481.7 Q465.95,481.7 465.95,482.9 L465.95,485.412 Q465.95,488.09999999999997 463.262,488.09999999999997 L456.338,488.09999999999997 Q453.65000000000003,488.09999999999997 453.65000000000003,485.412 Z" fill="url(#bandgrad)" opacity="0.86" filter="url(#bandblur)"/>
<path d="M469.85,483.3 Q469.85,482.1 471.85,482.1 Q476.0,482.868 480.15,482.1 Q482.15,482.1 482.15,483.3 L482.15,485.812 Q482.15,488.5 479.462,488.5 L472.538,488.5 Q469.85,488.5 469.85,485.812 Z" fill="url(#bandgrad)" opacity="0.86" filter="url(#bandblur)"/>
<path d="M486.05,484.0 Q486.05,482.8 488.05,482.8 Q492.2,483.568 496.34999999999997,482.8 Q498.34999999999997,482.8 498.34999999999997,484.0 L498.34999999999997,486.512 Q498.34999999999997,489.2 495.662,489.2 L488.738,489.2 Q486.05,489.2 486.05,486.512 Z" fill="url(#bandgrad)" opacity="0.86" filter="url(#bandblur)"/>
<path d="M502.25,484.8 Q502.25,483.6 504.25,483.6 Q508.4,484.368 512.55,483.6 Q514.55,483.6 514.55,484.8 L514.55,487.312 Q514.55,490.0 511.86199999999997,490.0 L504.938,490.0 Q502.25,490.0 502.25,487.312 Z" fill="url(#bandgrad)" opacity="0.92" filter="url(#bandblur)"/>
<path d="M518.15,472.2 Q518.15,471.0 520.15,471.0 Q524.3,471.768 528.4499999999999,471.0 Q530.4499999999999,471.0 530.4499999999999,472.2 L530.4499999999999,474.712 Q530.4499999999999,477.4 527.762,477.4 L520.838,477.4 Q518.15,477.4 518.15,474.712 Z" fill="url(#bandgrad)" opacity="0.86" filter="url(#bandblur)"/>
<path d="M534.45,472.0 Q534.45,470.8 536.45,470.8 Q540.6,471.568 544.75,470.8 Q546.75,470.8 546.75,472.0 L546.75,474.512 Q546.75,477.2 544.062,477.2 L537.138,477.2 Q534.45,477.2 534.45,474.512 Z" fill="url(#bandgrad)" opacity="0.86" filter="url(#bandblur)"/>
<path d="M550.85,472.2 Q550.85,471.0 552.85,471.0 Q557.0,471.768 561.15,471.0 Q563.15,471.0 563.15,472.2 L563.15,474.712 Q563.15,477.4 560.462,477.4 L553.538,477.4 Q550.85,477.4 550.85,474.712 Z" fill="url(#bandgrad)" opacity="0.86" filter="url(#bandblur)"/>
<path d="M567.15,471.9 Q567.15,470.7 569.15,470.7 Q573.3,471.46799999999996 577.4499999999999,470.7 Q579.4499999999999,470.7 579.4499999999999,471.9 L579.4499999999999,474.412 Q579.4499999999999,477.09999999999997 576.762,477.09999999999997 L569.838,477.09999999999997 Q567.15,477.09999999999997 567.15,474.412 Z" fill="url(#bandgrad)" opacity="0.86" filter="url(#bandblur)"/>
<path d="M583.85,472.0 Q583.85,470.8 585.85,470.8 Q590.0,471.568 594.15,470.8 Q596.15,470.8 596.15,472.0 L596.15,474.512 Q596.15,477.2 593.462,477.2 L586.538,477.2 Q583.85,477.2 583.85,474.512 Z" fill="url(#bandgrad)" opacity="0.86" filter="url(#bandblur)"/>
<rect x="602.2" y="405" width="11" height="56.60000000000002" fill="url(#smeargrad)" filter="url(#smear)"/>
<path d="M601.4000000000001,459.5 Q601.4000000000001,458.3 603.4000000000001,458.3 Q607.7,459.092 612.0,458.3 Q614.0,458.3 614.0,459.5 L614.0,462.12800000000004 Q614.0,464.90000000000003 611.228,464.90000000000003 L604.1720000000001,464.90000000000003 Q601.4000000000001,464.90000000000003 601.4000000000001,462.12800000000004 Z" fill="url(#bandgrad)" opacity="0.92" filter="url(#bandblur)"/>
<path d="M618.4,501.3 Q618.4,500.1 620.4,500.1 Q624.1,500.79600000000005 627.8000000000001,500.1 Q629.8000000000001,500.1 629.8000000000001,501.3 L629.8000000000001,503.464 Q629.8000000000001,505.9 627.364,505.9 L620.836,505.9 Q618.4,505.9 618.4,503.464 Z" fill="url(#bandgrad)" opacity="0.86" filter="url(#bandblur)"/>
<rect x="635.6" y="405" width="11" height="55.39999999999998" fill="url(#smeargrad)" filter="url(#smear)"/>
<path d="M634.8000000000001,458.29999999999995 Q634.8000000000001,457.09999999999997 636.8000000000001,457.09999999999997 Q641.1,457.89199999999994 645.4,457.09999999999997 Q647.4,457.09999999999997 647.4,458.29999999999995 L647.4,460.928 Q647.4,463.7 644.6279999999999,463.7 L637.5720000000001,463.7 Q634.8000000000001,463.7 634.8000000000001,460.928 Z" fill="url(#bandgrad)" opacity="0.92" filter="url(#bandblur)"/>
<path d="M651.9,501.3 Q651.9,500.1 653.9,500.1 Q657.6,500.79600000000005 661.3000000000001,500.1 Q663.3000000000001,500.1 663.3000000000001,501.3 L663.3000000000001,503.464 Q663.3000000000001,505.9 660.864,505.9 L654.336,505.9 Q651.9,505.9 651.9,503.464 Z" fill="url(#bandgrad)" opacity="0.86" filter="url(#bandblur)"/>
<rect x="669.1" y="405" width="11" height="53.5" fill="url(#smeargrad)" filter="url(#smear)"/>
<path d="M668.3000000000001,456.4 Q668.3000000000001,455.2 670.3000000000001,455.2 Q674.6,455.99199999999996 678.9,455.2 Q680.9,455.2 680.9,456.4 L680.9,459.028 Q680.9,461.8 678.1279999999999,461.8 L671.0720000000001,461.8 Q668.3000000000001,461.8 668.3000000000001,459.028 Z" fill="url(#bandgrad)" opacity="0.92" filter="url(#bandblur)"/>
<rect x="601.0" y="500.0" width="10" height="3" rx="1.5" fill="rgb(41,41,41)" filter="url(#softblur)"/>
<rect x="636.0" y="498.0" width="10" height="3" rx="1.5" fill="rgb(39,39,39)" filter="url(#softblur)"/>
<rect x="670.1" y="483.0" width="9" height="8" rx="4.0" fill="rgb(41,41,41)" filter="url(#softblur)"/>
<circle cx="276.1" cy="474.4" r="0.8" fill="#8a8a8a"/>
<text x="259.8" y="540.7" font-size="14" fill="#111" stroke="#111" stroke-width="0.2" text-anchor="middle" font-weight="normal" font-style="normal" >M</text>
<line x1="272.5" y1="535.9" x2="347.4" y2="535.9" stroke="#111" stroke-width="2" stroke-linecap="butt"/>
<text x="313.2" y="555.6" font-size="15" fill="#111" stroke="#111" stroke-width="0.2" text-anchor="middle" font-weight="normal" font-style="normal" >–</text>
<text x="313.2" y="578.3" font-size="15" fill="#111" stroke="#111" stroke-width="0.2" text-anchor="middle" font-weight="normal" font-style="normal" >1216</text>
<line x1="357.1" y1="535.9" x2="434.2" y2="535.9" stroke="#111" stroke-width="2" stroke-linecap="butt"/>
<text x="395.2" y="555.6" font-size="15" fill="#111" stroke="#111" stroke-width="0.2" text-anchor="middle" font-weight="normal" font-style="normal" >1</text>
<text x="395.2" y="578.3" font-size="15" fill="#111" stroke="#111" stroke-width="0.2" text-anchor="middle" font-weight="normal" font-style="normal" >252</text>
<line x1="438.6" y1="535.9" x2="515.6" y2="535.9" stroke="#111" stroke-width="2" stroke-linecap="butt"/>
<text x="477.4" y="555.6" font-size="15" fill="#111" stroke="#111" stroke-width="0.2" text-anchor="middle" font-weight="normal" font-style="normal" >3</text>
<text x="477.4" y="578.3" font-size="15" fill="#111" stroke="#111" stroke-width="0.2" text-anchor="middle" font-weight="normal" font-style="normal" >384</text>
<line x1="520.6" y1="535.9" x2="599.9" y2="535.9" stroke="#111" stroke-width="2" stroke-linecap="butt"/>
<text x="559.7" y="555.6" font-size="15" fill="#111" stroke="#111" stroke-width="0.2" text-anchor="middle" font-weight="normal" font-style="normal" >5</text>
<text x="559.7" y="578.3" font-size="15" fill="#111" stroke="#111" stroke-width="0.2" text-anchor="middle" font-weight="normal" font-style="normal" >516</text>
<line x1="604.5" y1="535.9" x2="681.1" y2="535.9" stroke="#111" stroke-width="2" stroke-linecap="butt"/>
<text x="642.3" y="555.6" font-size="15" fill="#111" stroke="#111" stroke-width="0.2" text-anchor="middle" font-weight="normal" font-style="normal" >7</text>
<text x="642.3" y="578.3" font-size="15" fill="#111" stroke="#111" stroke-width="0.2" text-anchor="middle" font-weight="normal" font-style="normal" >648</text>
<text x="247.8" y="570" font-size="15" fill="#111" stroke="#111" stroke-width="0.2" text-anchor="middle" font-weight="normal" font-style="normal" >Expected</text>
<text x="250.4" y="588.4" font-size="15" fill="#111" stroke="#111" stroke-width="0.2" text-anchor="middle" font-weight="normal" font-style="normal" >size (bp)</text>
</svg></body></html>
